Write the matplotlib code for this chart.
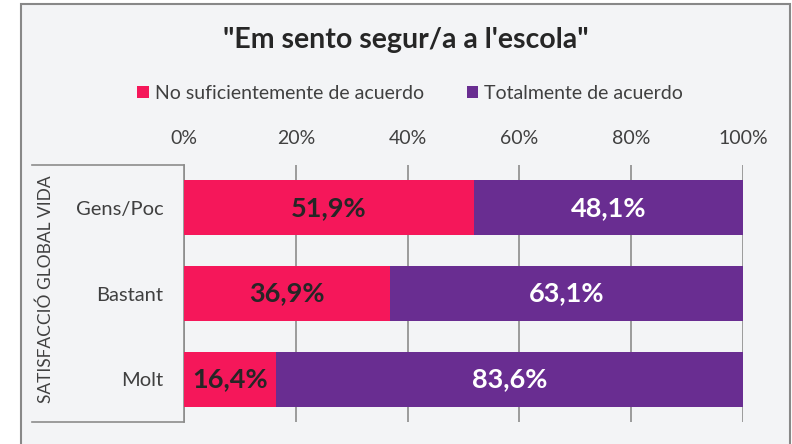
import matplotlib
matplotlib.use("Agg")
import matplotlib.pyplot as plt
from matplotlib.patches import Rectangle

plt.rcParams['font.family'] = ['Lato', 'DejaVu Sans']

categories = ["Gens/Poc", "Bastant", "Molt"]
no_suf = [51.9, 36.9, 16.4]
total = [48.1, 63.1, 83.6]
series_names = ["No suficientemente de acuerdo", "Totalmente de acuerdo"]
x_ticks = [0, 20, 40, 60, 80, 100]

pink = "#F5175A"
purple = "#692D91"
grid_c = "#8C8C8C"
text_c = "#404040"

W, H = 792, 444
fig = plt.figure(figsize=(W / 100, H / 100), dpi=100)
fig.patch.set_facecolor("white")

# outer chart frame
fig.patches.append(Rectangle((21 / W, -0.02), (790 - 21) / W, 1 - 4 / H + 0.02,
                             transform=fig.transFigure, facecolor="#F3F4F6",
                             edgecolor="#888888", linewidth=1.5, zorder=-1))

ax = fig.add_axes([184 / W, (H - 422) / H, (743 - 184) / W, (422 - 165) / H])
ax.set_facecolor("none")
ax.set_zorder(2)

ypos = list(range(len(categories)))
b1 = ax.barh(ypos, no_suf, height=0.64, color=pink, label=series_names[0], zorder=3)
b2 = ax.barh(ypos, total, left=no_suf, height=0.64, color=purple, label=series_names[1], zorder=3)

for i in ypos:
    ax.text(no_suf[i] / 2, i, f"{no_suf[i]:.1f}%".replace(".", ","), ha="center", va="center",
            fontsize=19.5, fontweight="bold", color="#262626", zorder=4)
    ax.text(no_suf[i] + total[i] / 2, i, f"{total[i]:.1f}%".replace(".", ","), ha="center",
            va="center", fontsize=19.5, fontweight="bold", color="white", zorder=4)

ax.set_xlim(0, 100)
ax.set_ylim(len(categories) - 0.5, -0.5)
ax.set_xticks(x_ticks)
ax.set_xticklabels([f"{v}%" for v in x_ticks])
ax.xaxis.tick_top()
ax.tick_params(axis="x", length=0, pad=13, labelsize=14, labelcolor=text_c)
ax.set_yticks(ypos)
ax.set_yticklabels(categories)
ax.tick_params(axis="y", length=0, pad=15, labelsize=14.5, labelcolor=text_c)
ax.grid(axis="x", color=grid_c, linewidth=1.2, zorder=1)
for s in ["top", "right", "bottom"]:
    ax.spines[s].set_visible(False)
ax.spines["left"].set_color(grid_c)
ax.spines["left"].set_linewidth(1.2)

# category table lines
x0 = (32 - 184) / (743 - 184)
for yy in (0, 1):
    ax.plot([x0, 0], [yy, yy], transform=ax.transAxes, color=grid_c, lw=1.2, clip_on=False)

fig.text(46 / W, 1 - 289 / H, "SATISFACCIÓ GLOBAL VIDA", rotation=90, ha="center", va="center",
         fontsize=12.5, color=text_c)

fig.text(406 / W, 1 - 48 / H, "\"Em sento segur/a a l'escola\"", ha="center", va="baseline",
         fontsize=20.5, fontweight="bold", color="#262626")

fig.legend(handles=[b1, b2], loc="center", bbox_to_anchor=(410 / W, 1 - 93.5 / H), ncol=2,
           frameon=False, fontsize=14, handlelength=0.6, handleheight=0.6, handletextpad=0.3,
           columnspacing=2.2, labelcolor=text_c)

fig.savefig("out.png", dpi=100)
